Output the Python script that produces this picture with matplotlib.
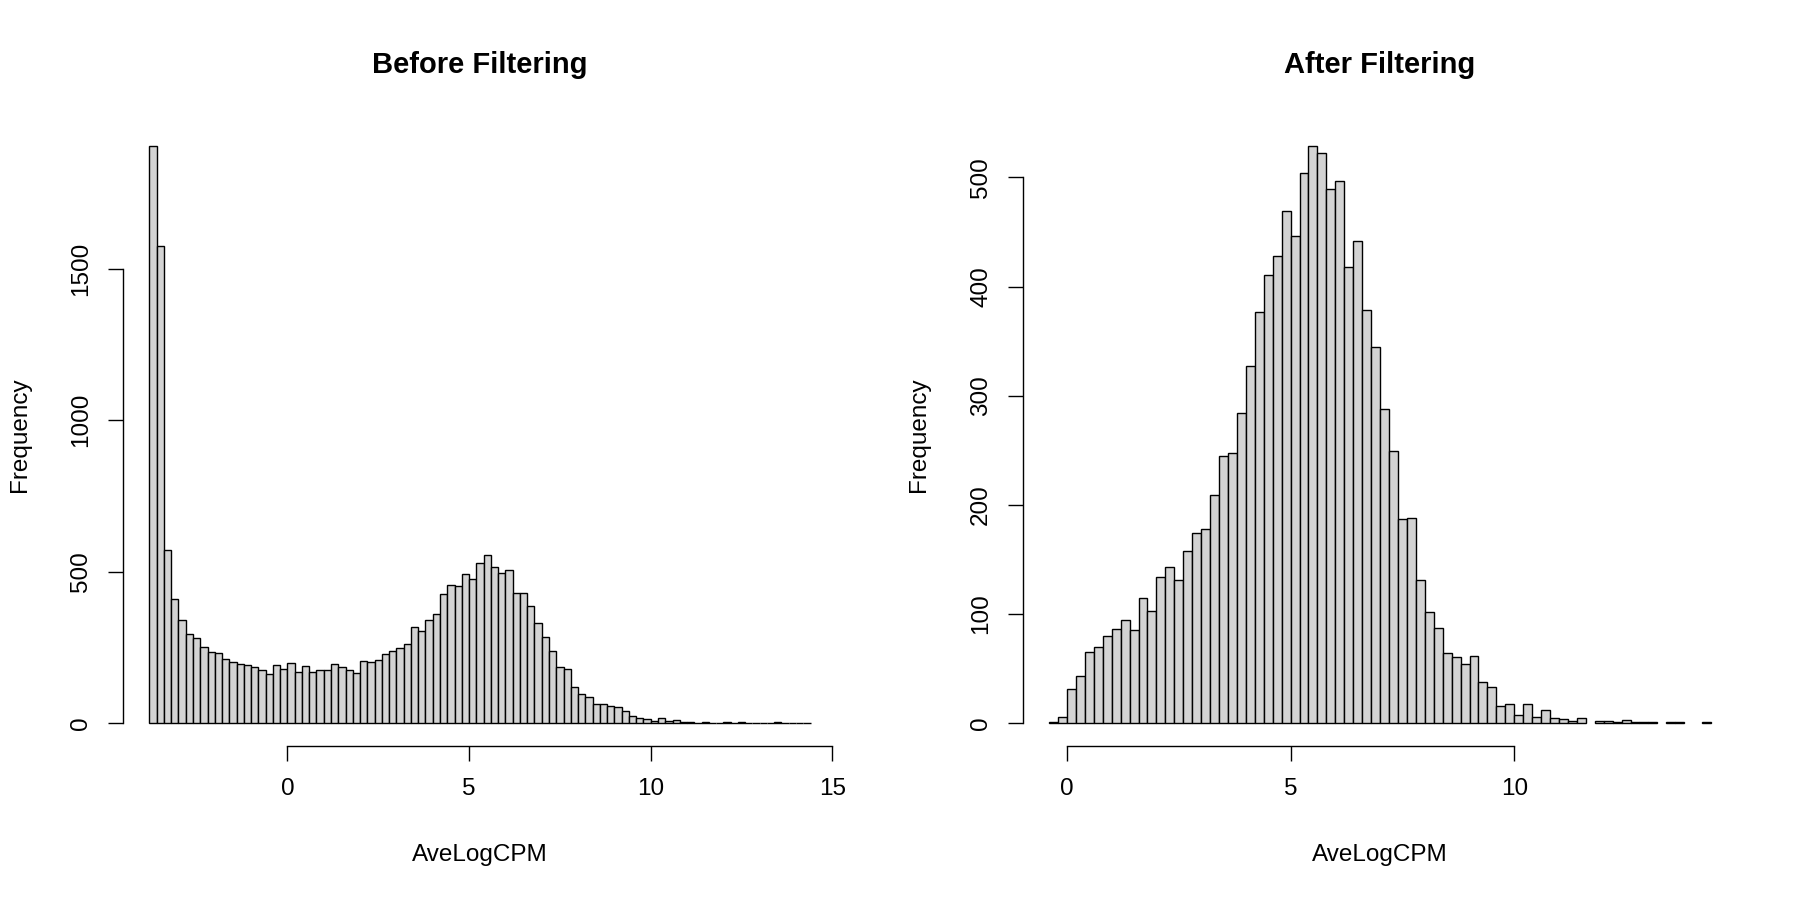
import numpy as np
import matplotlib
matplotlib.use('Agg')
import matplotlib.pyplot as plt

# histogram breaks (0.2 wide bins) and counts
before_breaks = np.round(np.arange(-3.8, 14.41, 0.2), 1)
before_counts = np.array([
    1905, 1576, 570, 411, 342, 296, 280, 253, 236, 233,
    213, 203, 196, 191, 186, 176, 164, 191, 180, 198,
    170, 190, 168, 175, 177, 197, 184, 175, 165,
    206, 203, 209, 229, 239, 248, 262, 316, 303, 341,
    362, 427, 456, 453, 493, 475, 528, 556, 516, 496,
    504, 429, 431, 388, 331, 283, 237, 187, 180, 121,
    98, 87, 65,
    63, 58, 54, 42, 25, 19, 15, 9, 16, 7,
    12, 4, 4, 2, 5, 2, 2, 3, 2, 3,
    2, 2, 2, 1, 3, 1, 1, 1, 2,
])

after_breaks = np.round(np.arange(-0.4, 14.41, 0.2), 1)
after_counts = np.array([
    1, 6, 31, 43, 65, 70, 80, 86, 95, 85,
    115, 103, 134, 143, 131, 158, 174,
    178, 209, 245, 248, 284, 327, 377, 411, 428, 469,
    446, 504, 529, 522, 489, 497, 418, 442, 379, 345,
    288, 249, 187, 188,
    131, 102, 87, 64, 61, 54, 62, 38, 33, 16,
    18, 8, 18, 6, 12, 5, 4, 2, 5, 0,
    2, 2, 1, 3, 1, 1, 1, 0, 1, 1,
    0, 0, 1,
])

before_xticks = [0, 5, 10, 15]
before_yticks = [0, 500, 1000, 1500]
after_xticks = [0, 5, 10]
after_yticks = [0, 100, 200, 300, 400, 500]

plt.rcParams['font.family'] = ['Liberation Sans', 'DejaVu Sans']
plt.rcParams['font.size'] = 17.5


def draw_hist(ax, breaks, counts, title, xticks, yticks):
    lefts = breaks[:-1]
    widths = np.diff(breaks)
    keep = counts > 0
    ax.bar(lefts[keep], counts[keep], width=widths[keep], align='edge',
           color='#d3d3d3', edgecolor='black', linewidth=1.0)

    # R style: 4% padding around the data range, open axes
    span = breaks[-1] - breaks[0]
    ax.set_xlim(breaks[0] - 0.04 * span, breaks[-1] + 0.04 * span)
    top = counts.max()
    ax.set_ylim(-0.04 * top, 1.04 * top)

    for side in ('top', 'right'):
        ax.spines[side].set_visible(False)
    ax.spines['bottom'].set_bounds(xticks[0], xticks[-1])
    ax.spines['left'].set_bounds(yticks[0], yticks[-1])
    for side in ('bottom', 'left'):
        ax.spines[side].set_linewidth(1.0)

    ax.set_xticks(xticks)
    ax.set_yticks(yticks)
    ax.tick_params(axis='both', direction='out', length=11, width=1.0,
                   labelsize=17.5)
    ax.tick_params(axis='x', pad=12)
    ax.tick_params(axis='y', pad=11)
    for lab in ax.get_yticklabels():
        lab.set_rotation(90)
        lab.set_va('center')

    ax.set_title(title, fontsize=21, fontweight='bold', pad=35.5)
    ax.set_xlabel('AveLogCPM', labelpad=31.5)
    ax.set_ylabel('Frequency', labelpad=28.5)


fig = plt.figure(figsize=(18, 9), dpi=100)
ax1 = fig.add_axes([0.0683, 0.1707, 0.3967, 0.693])
ax2 = fig.add_axes([0.5681, 0.1707, 0.3972, 0.693])

draw_hist(ax1, before_breaks, before_counts, 'Before Filtering',
          before_xticks, before_yticks)
draw_hist(ax2, after_breaks, after_counts, 'After Filtering',
          after_xticks, after_yticks)

fig.savefig('out.png', dpi=100)
